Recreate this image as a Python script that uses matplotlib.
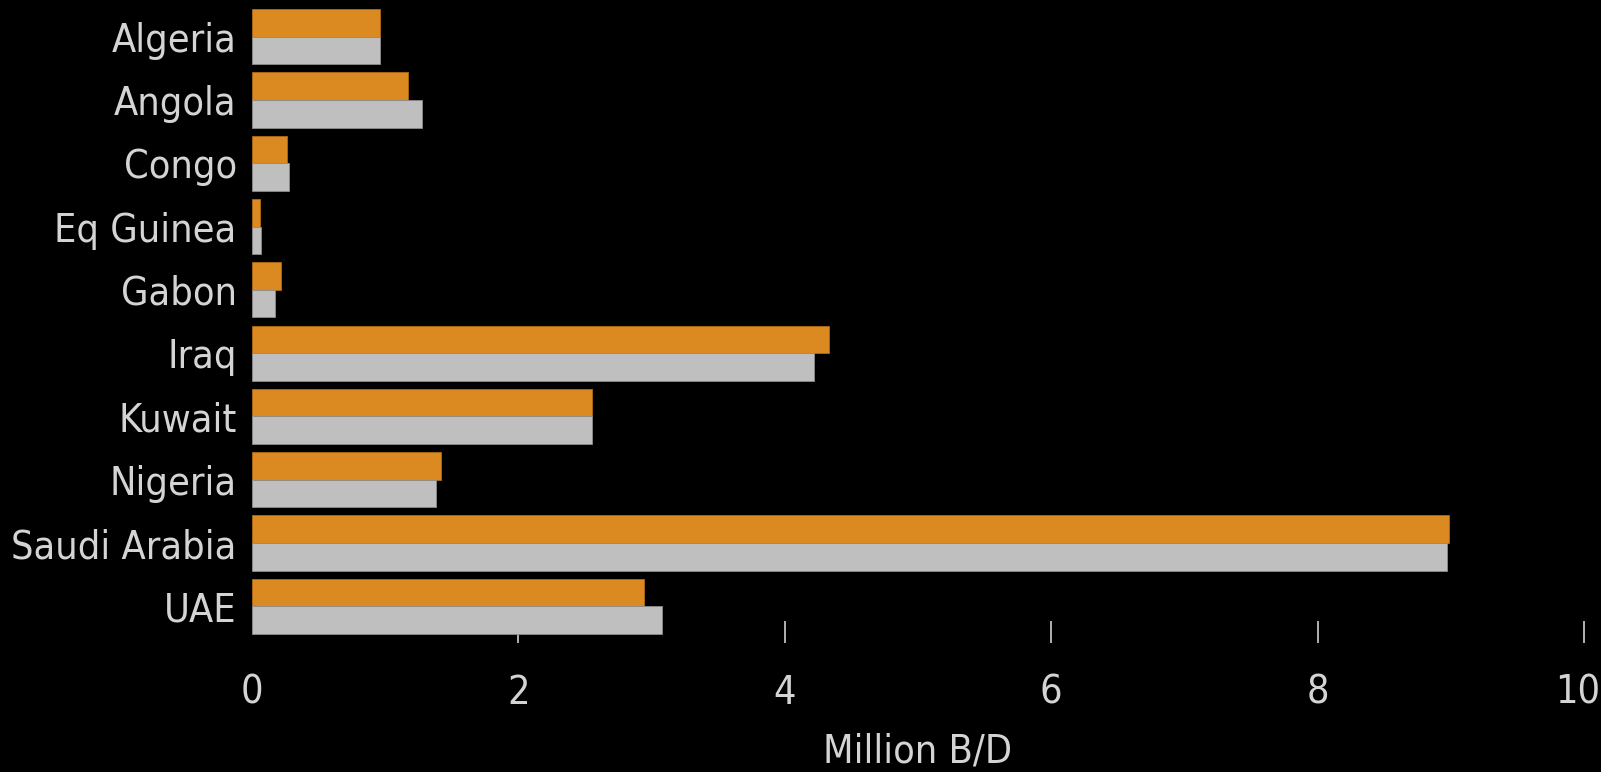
import matplotlib.pyplot as plt
import matplotlib.transforms as mtransforms
import numpy as np

#------------------------------------------------------------------------------
# data (million barrels per day)

countries = ['Algeria', 'Angola', 'Congo', 'Eq Guinea', 'Gabon',
             'Iraq', 'Kuwait', 'Nigeria', 'Saudi Arabia', 'UAE']
orange_vals = [0.96, 1.17, 0.26, 0.06, 0.22, 4.33, 2.55, 1.42, 8.99, 2.94]
gray_vals   = [0.96, 1.28, 0.28, 0.07, 0.17, 4.22, 2.55, 1.38, 8.97, 3.08]
xticks = [0, 2, 4, 6, 8, 10]

#------------------------------------------------------------------------------
# style

txt = '#d4d4d4'
orange = '#db8a22'
gray = '#bfbfbf'
fs = 28.4
plt.rcParams['font.family'] = 'DejaVu Sans'
plt.rcParams['font.stretch'] = 'condensed'

fig = plt.figure(figsize=(16.01, 7.72), dpi=100, facecolor='black')
ax = fig.add_axes([0.1574, 0.1671, 0.832, 0.8329], facecolor='black')

y = np.arange(len(countries))
h = 0.436
ax.barh(y - h/2, orange_vals, height=h, color=orange, edgecolor='#b06a10', linewidth=0.6)
ax.barh(y + h/2, gray_vals, height=h, color=gray, edgecolor='#8c8c8c', linewidth=0.6)

ax.set_xlim(0, 10)
ax.set_ylim(len(countries) - 1 + 0.58, -0.58)
ax.set_yticks(y)
ax.set_yticklabels(countries)
ax.set_xticks(xticks)
ax.set_axisbelow(True)

for s in ax.spines.values():
    s.set_visible(False)

ax.tick_params(axis='y', length=0, pad=11, labelsize=fs, labelcolor=txt)
ax.tick_params(axis='x', direction='in', length=16, width=1.2, color='#cfcfcf',
               pad=22, labelsize=fs, labelcolor=txt)
# no tick mark at zero in the original
ax.xaxis.get_major_ticks()[0].tick1line.set_visible(False)
# nudge the last label so it stays inside the figure
last = ax.xaxis.get_major_ticks()[-1].label1
last.set_transform(last.get_transform() +
                   mtransforms.ScaledTranslation(-6/100, 0, fig.dpi_scale_trans))
ax.set_xlabel('Million B/D', fontsize=fs, color=txt, labelpad=15)

fig.savefig('out.png', dpi=100, facecolor='black')
